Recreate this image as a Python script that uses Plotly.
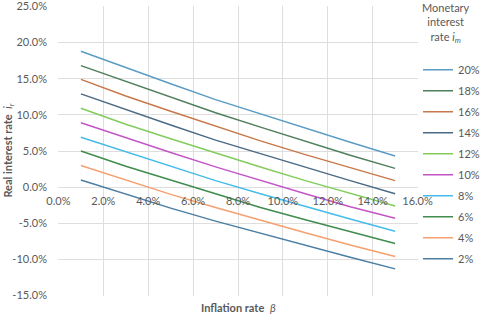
import plotly.graph_objects as go

# Inflation rate beta (%)
beta = [1, 3, 5, 7, 9, 11, 13, 15]

# Real interest rate (%) for each monetary interest rate
r_2 = [1.0, -1.0, -2.9, -4.7, -6.4, -8.1, -9.7, -11.3]
r_4 = [3.0, 1.0, -1.0, -2.8, -4.6, -6.3, -8.0, -9.6]
r_6 = [5.0, 2.9, 1.0, -0.9, -2.8, -4.5, -6.2, -7.8]
r_8 = [6.9, 4.9, 2.9, 0.9, -0.9, -2.7, -4.4, -6.1]
r_10 = [8.9, 6.8, 4.8, 2.8, 0.9, -0.9, -2.7, -4.3]
r_12 = [10.9, 8.7, 6.7, 4.7, 2.8, 0.9, -0.9, -2.6]
r_14 = [12.9, 10.7, 8.6, 6.5, 4.6, 2.7, 0.9, -0.9]
r_16 = [14.9, 12.6, 10.5, 8.4, 6.4, 4.5, 2.7, 0.9]
r_18 = [16.8, 14.6, 12.4, 10.3, 8.3, 6.3, 4.4, 2.6]
r_20 = [18.8, 16.5, 14.3, 12.1, 10.1, 8.1, 6.2, 4.3]

series_names = ["20%", "18%", "16%", "14%", "12%", "10%", "8%", "6%", "4%", "2%"]
series_values = [r_20, r_18, r_16, r_14, r_12, r_10, r_8, r_6, r_4, r_2]
colors = ["#5b9cc4", "#4f7f5a", "#c8784a", "#4a6a85", "#82cc5c",
          "#c455c8", "#45bbea", "#3f8c4d", "#f5a070", "#4a7ea2"]

x_ticks = [0, 2, 4, 6, 8, 10, 12, 14, 16]
x_tick_labels = ["0.0%", "2.0%", "4.0%", "6.0%", "8.0%", "10.0%", "12.0%", "14.0%", "16.0%"]
y_ticks = [-15, -10, -5, 0, 5, 10, 15, 20, 25]
y_tick_labels = ["-15.0%", "-10.0%", "-5.0%", "0.0%", "5.0%", "10.0%", "15.0%", "20.0%", "25.0%"]

FONT = "Lato"
GREY = "#595959"
GRID = "#dedede"

fig = go.Figure()
for name, vals, col in zip(series_names, series_values, colors):
    fig.add_trace(go.Scatter(x=beta, y=vals, mode="lines", name=name, legendgroup=name,
                             line=dict(color=col, width=1.5)))

fig.update_layout(
    width=480, height=314,
    margin=dict(l=58, r=62, t=6, b=18, autoexpand=False),
    paper_bgcolor="white", plot_bgcolor="white",
    font=dict(family=FONT, size=11, color=GREY),
    showlegend=True,
    legend=dict(x=1.0, y=0.83, xanchor="left", yanchor="top",
                font=dict(size=11, color=GREY), itemwidth=30,
                bgcolor="rgba(0,0,0,0)", tracegroupgap=2),
    xaxis=dict(range=[-0.02, 16.02], tickvals=x_ticks, ticktext=x_tick_labels,
               showgrid=True, gridcolor=GRID, gridwidth=1,
               zeroline=False, showline=False, anchor="free", position=0.375,
               ticklabelstandoff=6, ticklabeloverflow="allow",
               tickfont=dict(size=11, color=GREY)),
    yaxis=dict(range=[-15.05, 25.05], tickvals=y_ticks, ticktext=y_tick_labels,
               showgrid=True, gridcolor=GRID, gridwidth=1,
               zeroline=False, showline=False, domain=[0, 1],
               ticklabelstandoff=10, ticklabeloverflow="allow",
               tickfont=dict(size=11, color=GREY)),
    annotations=[
        dict(text="<b>Inflation rate</b>  <i>β</i>", xref="paper", yref="paper",
             x=0.5, y=-0.01, xanchor="center", yanchor="top", showarrow=False,
             font=dict(size=11, color=GREY)),
        dict(text="<b>Real interest rate</b>  <i>i<sub>r</sub></i>", xref="paper", yref="paper",
             x=-0.14, y=0.5, xanchor="center", yanchor="middle", showarrow=False,
             textangle=-90, font=dict(size=11, color=GREY)),
        dict(text="Monetary<br>interest<br>rate <i>i<sub>m</sub></i>", xref="paper", yref="paper",
             x=1.078, y=1.025, xanchor="center", yanchor="top", showarrow=False,
             font=dict(size=11, color=GREY), align="center"),
    ],
)

fig.write_html("out.html", config={"displayModeBar": False},
               post_script="document.body.style.margin='0';document.body.style.overflow='hidden';")
